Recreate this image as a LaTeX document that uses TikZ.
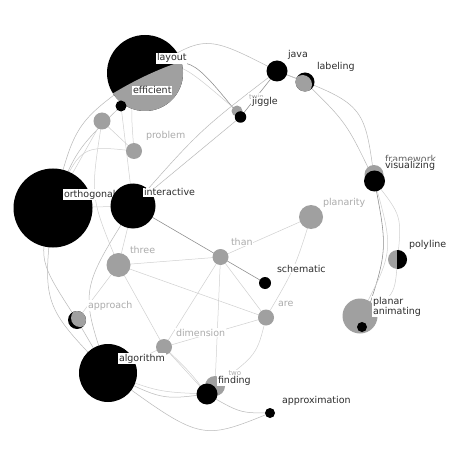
\documentclass[tikz,border=0pt]{standalone}
\usepackage{fontspec}
\setmainfont{DejaVu Sans}
\pgfdeclarelayer{edges}
\pgfsetlayers{edges,main}
\definecolor{cgray}{RGB}{160,160,160}
\definecolor{ltxt}{RGB}{45,45,45}
\definecolor{gtxt}{RGB}{172,172,172}
\definecolor{ftxt}{RGB}{100,100,100}
\definecolor{ecol}{RGB}{208,208,208}
\definecolor{ecolm}{RGB}{185,185,185}
\definecolor{ecold}{RGB}{140,140,140}
\tikzset{
  dot/.style={circle, inner sep=0pt, draw=none},
  blk/.style={dot, fill=black},
  gry/.style={dot, fill=cgray},
  lbl/.style={anchor=base west, inner xsep=0.8pt, inner ysep=0.9pt, fill=white, text=ltxt, font=\fontsize{9.5}{11}\selectfont},
  glbl/.style={lbl, text=gtxt},
  slbl/.style={lbl, text=gtxt, font=\fontsize{7}{8}\selectfont},
  edge/.style={draw=ecol, line width=0.5pt},
  edgem/.style={draw=ecolm, line width=0.5pt},
  edged/.style={draw=ecold, line width=0.55pt},
}
\begin{document}
\begin{tikzpicture}[x=1pt,y=-1pt]
\useasboundingbox (0,0) rectangle (450,470);

% layout / efficient (one split disc)
\node[blk, minimum size=76pt] (layout) at (145,73) {};
\node[dot, minimum size=76pt] (efficient) at (145,73) {};
\begin{scope}
  \clip (100,100) -- (112,94) .. controls (135,80) and (160,68) .. (186,60) -- (200,60) -- (200,125) -- (100,125) -- cycle;
  \fill[cgray] (efficient.center) circle (38pt);
\end{scope}
\node[lbl] (llayout) at (156,61) {layout};
\node[lbl] (lefficient) at (132,94) {efficient};

\node[blk, minimum size=11pt] (n1) at (121,106) {};
\node[gry, minimum size=17pt] (n2) at (102,121) {};
\node[gry, minimum size=16pt] (problem) at (134,151) {};
\node[glbl] (lproblem) at (145,139) {problem};

\node[blk, minimum size=79pt] (orthogonal) at (53,208) {};
\node[lbl] (lorthogonal) at (63,197) {orthogonal};
\node[blk, minimum size=45pt] (interactive) at (133,206) {};
\node[lbl] (linteractive) at (143,196) {interactive};

\node[gry, minimum size=24pt] (three) at (118.5,265) {};
\node[glbl] (lthree) at (129,253) {three};
\node[gry, minimum size=16pt] (than) at (220.5,257) {};
\node[glbl] (lthan) at (230,245) {than};
\node[gry, minimum size=24pt] (planarity) at (311,217) {};
\node[glbl] (lplanarity) at (322,205) {planarity};
\node[blk, minimum size=12pt] (schematic) at (265,283) {};
\node[lbl] (lschematic) at (276,272) {schematic};
\node[gry, minimum size=16pt] (are) at (266,317.5) {};
\node[glbl] (lare) at (277,306) {are};

% approach (split disc)
\node[blk, minimum size=18pt] (approach) at (77,320) {};
\begin{scope}
  \clip (approach.center) circle (9pt);
  \fill[cgray] ([xshift=3pt,yshift=2pt]approach.center) circle (9pt);
\end{scope}
\node[glbl] (lapproach) at (87,308) {approach};

\node[gry, minimum size=16pt] (dimension) at (164,347) {};
\node[glbl] (ldimension) at (175,336) {dimension};
\node[blk, minimum size=58pt] (algorithm) at (108,373) {};
\node[lbl] (lalgorithm) at (118,361) {algorithm};

\node[gry, minimum size=20pt] (two) at (215,386) {};
\node[slbl] (ltwo) at (227.5,375.5) {two};
\node[blk, minimum size=21pt] (finding) at (207,394) {};
\node[lbl] (lfinding) at (217,383) {finding};
\node[blk, minimum size=10pt] (approximation) at (270,413) {};
\node[lbl] (lapproximation) at (281,403) {approximation};

\node[blk, minimum size=21pt] (java) at (277,71) {};
\node[lbl] (ljava) at (287,58) {java};
% labeling (split disc)
\node[blk, minimum size=19pt] (labeling) at (305,82) {};
\begin{scope}
  \clip (labeling.center) circle (9.5pt);
  \fill[cgray] ([xshift=-2.5pt,yshift=-2.5pt]labeling.center) circle (9.5pt);
\end{scope}
\node[lbl] (llabeling) at (316,70) {labeling};

\node[gry, minimum size=11pt] (twin) at (237,111) {};
\node[slbl] (ltwin) at (248,99.5) {twin};
\node[blk, minimum size=11.5pt] (jiggle) at (240.5,117) {};
\node[lbl] (ljiggle) at (251,105) {jiggle};

\node[gry, minimum size=19pt] (framework) at (374,174.5) {};
\node[lbl, text=ftxt] (lframework) at (384,163) {framework};
\node[blk, minimum size=21pt] (visualizing) at (374.5,181) {};
\node[lbl] (lvisualizing) at (384,169) {visualizing};

% polyline (split disc)
\node[gry, minimum size=19pt] (polyline) at (397.5,259.5) {};
\begin{scope}
  \clip (397,240) rectangle (420,280);
  \fill[black] (polyline.center) circle (9.5pt);
\end{scope}
\node[lbl] (lpolyline) at (408,247) {polyline};

\node[gry, minimum size=35pt] (planar) at (360,316) {};
\node[lbl] (lplanar) at (372,304) {planar};
\node[blk, minimum size=10pt] (animating) at (362,327) {};
\node[lbl] (lanimating) at (372,314) {animating};

\begin{pgfonlayer}{edges}
\fill[white] (0,0) rectangle (450,470);
% outer ring
\draw[edgem] (layout.center) .. controls (205,34) .. (java.center);
\draw[edgem] (java.center) -- (labeling.center);
\draw[edgem] (java.center) .. controls (364.5,104) .. (visualizing.center);
\draw[edgem] (labeling.center) .. controls (346.5,122.5) .. (visualizing.center);
\draw[edged] (visualizing.center) .. controls (388,251) .. (animating.center);
\draw[edge] (visualizing.center) .. controls (394,251) .. (planar.center);
\draw[edge] (visualizing.center) .. controls (402,216) .. (polyline.center);
\draw[edge] (polyline.center) .. controls (395,296) .. (planar.center);
\draw[edgem] (layout.center) .. controls (75,122) .. (orthogonal.center);
\draw[edgem] (n1.center) .. controls (76,150) .. (orthogonal.center);
\draw[edge] (n2.center) -- (orthogonal.center);
\draw[edgem] (orthogonal.center) .. controls (38,260) .. (approach.center);
\draw[edgem] (orthogonal.center) .. controls (42,305) .. (algorithm.center);
\draw[edgem] (approach.center) -- (algorithm.center);
\draw[edgem] (algorithm.center) .. controls (162,400) .. (finding.center);
\draw[edge] (algorithm.center) .. controls (158,392) .. (finding.center);
\draw[edgem] (algorithm.center) .. controls (201,441) .. (approximation.center);
\draw[edgem] (finding.center) .. controls (240,413) .. (approximation.center);
% inner
\draw[edged] (layout.center) .. controls (190,55) .. (jiggle.center);
\draw[edge] (efficient.center) .. controls (178,60) .. (twin.center);
\draw[edged] (java.center) -- (jiggle.center);
\draw[edgem] (interactive.center) .. controls (200,130) .. (java.center);
\draw[edgem] (interactive.center) -- (jiggle.center);
\draw[edge] (n1.center) -- (interactive.center);
\draw[edge] (efficient.center) .. controls (130,100) .. (problem.center);
\draw[edge] (n2.center) -- (problem.center);
\draw[edge] (orthogonal.center) .. controls (80,145) .. (problem.center);
\draw[edge] (n2.center) .. controls (90,197) .. (three.center);
\draw[edge] (orthogonal.center) -- (interactive.center);
\draw[edge] (interactive.center) -- (three.center);
\draw[edged] (interactive.center) -- (schematic.center);
\draw[edge] (three.center) -- (than.center);
\draw[edge] (three.center) -- (are.center);
\draw[edge] (three.center) -- (approach.center);
\draw[edge] (three.center) -- (dimension.center);
\draw[edge] (dimension.center) -- (finding.center);
\draw[edge] (dimension.center) .. controls (190,372) .. (finding.center);
\draw[edge] (than.center) -- (dimension.center);
\draw[edge] (than.center) -- (two.center);
\draw[edge] (than.center) -- (are.center);
\draw[edge] (than.center) -- (planarity.center);
\draw[edge] (planarity.center) .. controls (295,268) .. (are.center);
\draw[edge] (dimension.center) -- (are.center);
\draw[edge] (are.center) .. controls (257,355) .. (two.center);
\draw[edgem] (algorithm.center) .. controls (79.5,290.5) .. (interactive.center);
\draw[edge] (algorithm.center) -- (dimension.center);
\end{pgfonlayer}
\end{tikzpicture}
\end{document}
